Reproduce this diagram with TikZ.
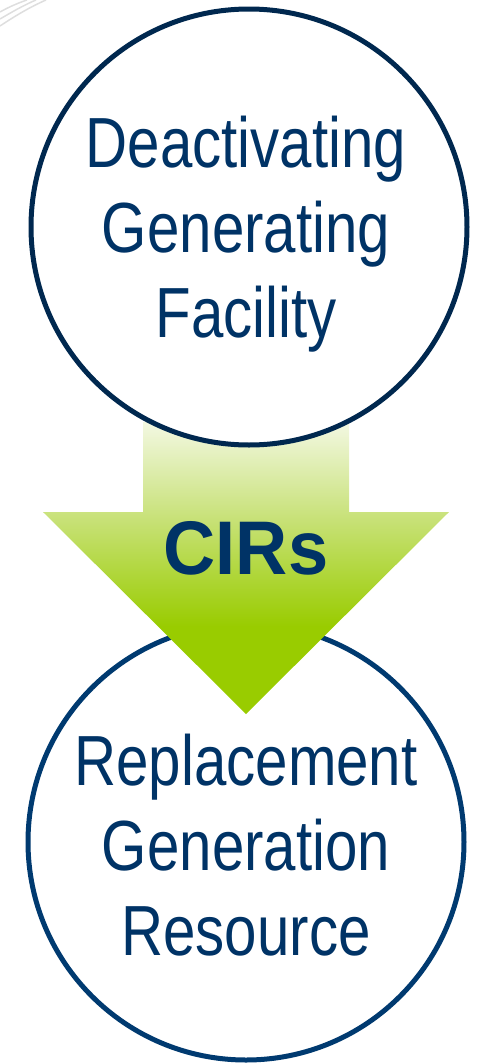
\documentclass[tikz,border=0pt]{standalone}
\usepackage{fontspec}
\setmainfont{Liberation Sans}
\newfontfamily\bubblefont[FakeStretch=0.82]{Liberation Sans}
\newfontfamily\arrowfont[FakeStretch=0.95]{Liberation Sans}

\definecolor{navytop}{HTML}{00284F}
\definecolor{navybottom}{HTML}{003A70}
\definecolor{navytext}{HTML}{003366}
\definecolor{cirpale}{HTML}{F3F8E2}
\definecolor{cirmid}{HTML}{C9E27B}
\definecolor{cirgreen}{HTML}{99CC00}

\pgfdeclareverticalshading{cirs fade}{100bp}{%
  color(0bp)=(cirgreen); color(40bp)=(cirgreen);
  color(59bp)=(cirmid); color(75bp)=(cirpale); color(100bp)=(cirpale)}

\tikzset{%
  bubble/.style={
    circle,
    line width=5pt,
    fill=white,
    minimum size=436pt,
    inner sep=0pt
  },
  bubble text/.style={
    text=navytext,
    font=\bubblefont\fontsize{71}{85}\selectfont,
    align=center,
    anchor=base,
    inner sep=0pt
  },
  arrow text/.style={
    text=navytext,
    font=\arrowfont\bfseries\fontsize{76}{90}\selectfont,
    anchor=base,
    inner sep=0pt
  },
  corner arc/.style={
    draw=black!13,
    line width=1.5pt
  },
}

\begin{document}
\begin{tikzpicture}[x=1pt,y=-1pt]
\useasboundingbox (0,0) rectangle (482,1063);
\draw[corner arc] (0,26) .. controls (15,16) and (30,7) .. (46,0);
\draw[corner arc] (0,19) .. controls (12,12) and (24,5) .. (36,0);
\draw[corner arc] (0,12) .. controls (9,7) and (18,3) .. (27,0);
\node[bubble, draw=navybottom] (replacement) at (246,842) {};
\shade[shading=cirs fade] (143,422) -- (349,422) -- (349,512) -- (449,512)
  -- (246,714) -- (43,512) -- (143,512) -- cycle;
\node[bubble, draw=navytop] (deactivating) at (249,227) {};
\node[bubble text] (deactivating label) at (246,337) {Deactivating\\Generating\\Facility};
\node[bubble text] (replacement label) at (246,955) {Replacement\\Generation\\Resource};
\node[arrow text] (cirs) at (246,574) {CIRs};
\end{tikzpicture}
\end{document}
